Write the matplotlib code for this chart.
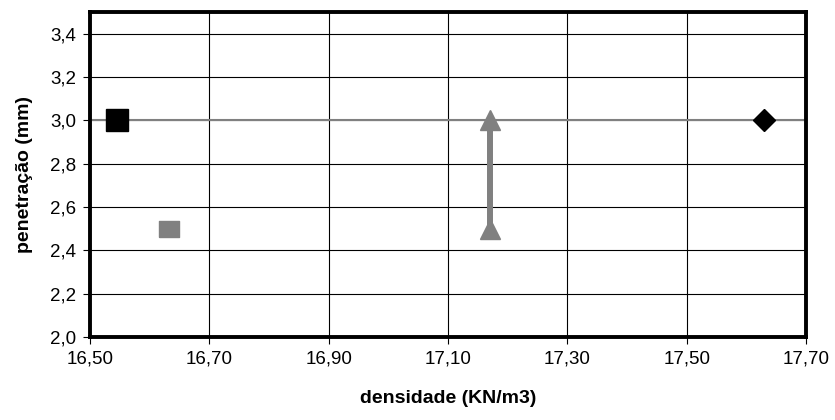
import matplotlib
matplotlib.use("Agg")
import matplotlib.pyplot as plt
from matplotlib.ticker import FuncFormatter

plt.rcParams['font.family'] = ['Liberation Sans', 'DejaVu Sans']

# data
black_sq_x, black_sq_y = [16.545], [3.0]
gray_sq_x, gray_sq_y = [16.632], [2.5]
tri_x, tri_y = [17.17, 17.17], [3.0, 2.5]
diamond_x, diamond_y = [17.63], [3.0]
ref_line_y = 3.0
x_ticks = [16.5, 16.7, 16.9, 17.1, 17.3, 17.5, 17.7]
y_ticks = [2.0, 2.2, 2.4, 2.6, 2.8, 3.0, 3.2, 3.4]

fig = plt.figure(figsize=(8.35, 4.2), dpi=100)
ax = fig.add_axes([0.1078, 0.1976, 0.8575, 0.7738])
ax.set_xlim(16.5, 17.7)
ax.set_ylim(2.0, 3.5)
ax.set_xticks(x_ticks)
ax.set_yticks(y_ticks)
ax.xaxis.set_major_formatter(FuncFormatter(lambda v, p: f"{v:.2f}".replace('.', ',')))
ax.yaxis.set_major_formatter(FuncFormatter(lambda v, p: f"{v:.1f}".replace('.', ',')))
ax.grid(True, color='black', linewidth=0.8)
ax.set_axisbelow(True)
ax.axhline(ref_line_y, color='#808080', linewidth=1.5, zorder=2)

rect = [(-1, -0.75), (1, -0.75), (1, 0.75), (-1, 0.75), (-1, -0.75)]
ax.plot(black_sq_x, black_sq_y, marker='s', markersize=16.5, color='black', linestyle='none', zorder=4)
ax.plot(gray_sq_x, gray_sq_y, marker=rect, markersize=14.5, color='#808080', linestyle='none', zorder=4)
ax.plot(tri_x, tri_y, marker='^', markersize=15, color='#808080', linewidth=4.3, zorder=4)
ax.plot(diamond_x, diamond_y, marker='D', markersize=11, color='black', linestyle='none', zorder=4)

for s in ax.spines.values():
    s.set_linewidth(2.8)
    s.set_color('black')
ax.tick_params(direction='out', length=5, width=0.8, labelsize=13.5, pad=5)
ax.set_xlabel('densidade (KN/m3)', fontsize=14, fontweight='bold', labelpad=16)
ax.set_ylabel('penetração (mm)', fontsize=14, fontweight='bold', labelpad=12)

fig.savefig('out.png', dpi=100)
